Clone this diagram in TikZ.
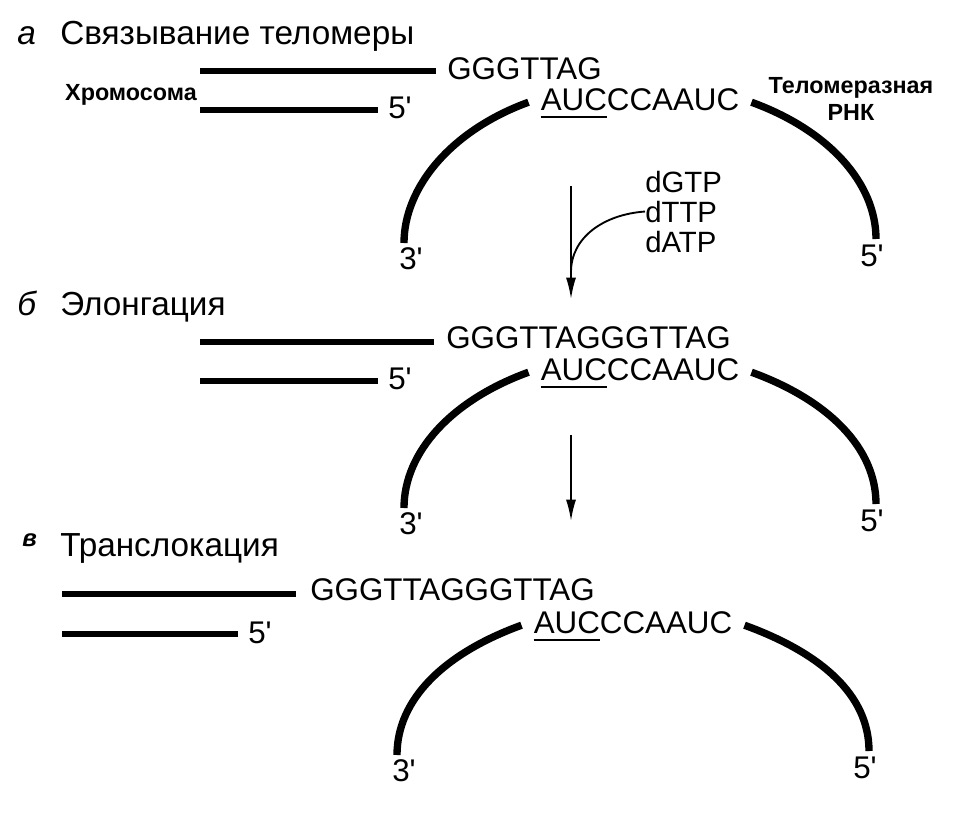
\documentclass[tikz,border=0pt]{standalone}
\usepackage{fontspec}
\setmainfont{Liberation Sans}
\usetikzlibrary{calc, arrows.meta}

\tikzset{
  ttl/.style={font=\fontsize{25}{25}\selectfont, inner sep=0pt},
  seq/.style={font=\fontsize{23.5}{23.5}\selectfont, inner sep=0pt},
  ntp/.style={font=\fontsize{22}{22}\selectfont, inner sep=0pt},
  lbl/.style={font=\fontsize{17.5}{20}\selectfont\bfseries, inner sep=0pt, align=center},
  strand/.style={line width=4.5pt},
  rna/.style={line width=5.5pt},
  flow/.style={line width=1.4pt},
}
\newcommand{\pr}{\textquotesingle}

\begin{document}
\begin{tikzpicture}[x=0.75pt,y=-0.75pt,>={Latex[length=16pt,width=7.5pt]}]
\useasboundingbox (0,0) rectangle (970,814);
% a
\node [ttl,anchor=base west] (la) at (17,44) {\itshape а};
\node [ttl,anchor=base west] (ta) at (60,44) {Связывание теломеры};
\draw [strand] (200,71) -- (436,71);
\draw [strand] (200,110) -- (378,110);
\node [seq,anchor=base west] (gga) at (447,79) {GGGTTAG};
\node [seq,anchor=base west] (fa) at (388,118) {5\pr};
\node [lbl,anchor=base east] (chra) at (197,100) {Хромосома};
\node [lbl,anchor=base] (tra) at (851,120) {Теломеразная\\РНК};
\node [ntp,anchor=base west] (dgtp) at (645,192) {dGTP};
\node [ntp,anchor=base west] (dttp) at (645,222) {dTTP};
\node [ntp,anchor=base west] (datp) at (645,252) {dATP};
\coordinate (a1s) at (571,186);
\coordinate (a1e) at (571,299);
\coordinate (mrg) at ($(a1s)!0.76!(a1e)$);
\draw [flow,->] (a1s) -- (a1e);
\draw [flow] (dttp.west) .. controls +(-42,3) and +(0,-34) .. (mrg);
% b
\node [ttl,anchor=base west] (lb) at (17,315) {\itshape б};
\node [ttl,anchor=base west] (tb) at (60,315) {Элонгация};
\draw [strand] (200,342) -- (434,342);
\draw [strand] (200,381) -- (378,381);
\node [seq,anchor=base west] (ggb) at (446,348) {GGGTTAGGGTTAG};
\node [seq,anchor=base west] (fb) at (388,389) {5\pr};
\coordinate (a2s) at (571,435);
\coordinate (a2e) at (571,521);
\draw [flow,->] (a2s) -- (a2e);
% c
\node [anchor=base west,inner sep=0pt] (lc) at (22,546) {\fontsize{18}{18}\selectfont\bfseries\itshape в};
\node [ttl,anchor=base west] (tc) at (60,556) {Транслокация};
\draw [strand] (62,594) -- (296,594);
\draw [strand] (62,634) -- (238,634);
\node [seq,anchor=base west] (ggc) at (310,600) {GGGTTAGGGTTAG};
\node [seq,anchor=base west] (fc) at (248,643) {5\pr};
% RNA template
\foreach \dx/\dy/\ey/\n in {0/0/243/a,0/270/238/b,-7/523/232/c}{
  \begin{scope}[shift={(\dx,\dy)}]
    \node [seq,inner xsep=9pt,anchor=base] (auc\n) at (640,110) {AUCCCAAUC};
    \draw [flow] ($(auc\n.base west)+(12,7)$) -- ++(66,0);
    \coordinate (e3\n) at (404,\ey);
    \coordinate (e5\n) at (876,\ey-4);
    \draw [rna] ($(auc\n.west)+(0,3)$) .. controls +(-77,28) and +(0,-56) .. (e3\n);
    \draw [rna] ($(auc\n.east)+(0,3)$) .. controls +(77,28) and +(0,-56) .. (e5\n);
    \node [seq,anchor=north west] (t3\n) at ($(e3\n)+(-5,4)$) {3\pr};
    \node [seq,anchor=north] (t5\n) at ($(e5\n)+(-4,6)$) {5\pr};
  \end{scope}
}
\end{tikzpicture}
\end{document}
